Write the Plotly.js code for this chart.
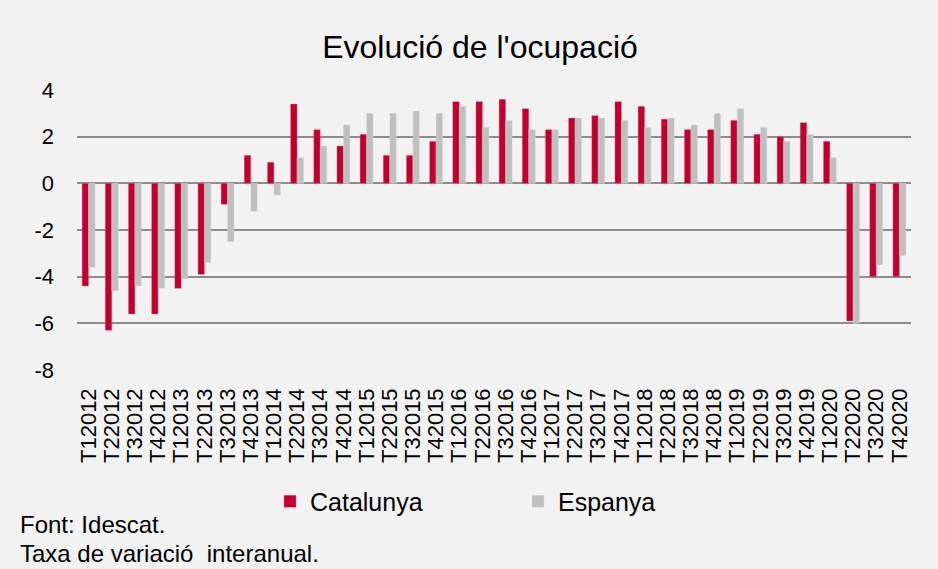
<!DOCTYPE html>
<html>
<head>
<meta charset="utf-8">
<script src="https://cdn.plot.ly/plotly-3.0.1.min.js"></script>
<style>html,body{margin:0;padding:0;background:#f2f2f2;}#chart{width:938px;height:569px;}</style>
</head>
<body>
<div id="chart"></div>
<script>
const categories = ["T12012","T22012","T32012","T42012","T12013","T22013","T32013","T42013","T12014","T22014","T32014","T42014","T12015","T22015","T32015","T42015","T12016","T22016","T32016","T42016","T12017","T22017","T32017","T42017","T12018","T22018","T32018","T42018","T12019","T22019","T32019","T42019","T12020","T22020","T32020","T42020"];
const catalunya = [-4.4,-6.3,-5.6,-5.6,-4.5,-3.9,-0.9,1.2,0.9,3.4,2.3,1.6,2.1,1.2,1.2,1.8,3.5,3.5,3.6,3.2,2.3,2.8,2.9,3.5,3.3,2.75,2.3,2.3,2.7,2.1,2.0,2.6,1.8,-5.9,-4.0,-4.0];
const espanya = [-3.6,-4.6,-4.4,-4.5,-4.1,-3.4,-2.5,-1.2,-0.5,1.1,1.6,2.5,3.0,3.0,3.1,3.0,3.3,2.4,2.7,2.3,2.3,2.8,2.8,2.7,2.4,2.8,2.5,3.0,3.2,2.4,1.8,2.1,1.1,-6.0,-3.5,-3.1];
const yTicks = [4,2,0,-2,-4,-6,-8];

const font = "Liberation Sans, Arial, sans-serif";
const traces = [
  {type:"bar", name:"Catalunya", x:categories, y:catalunya,
   marker:{color:"#c00030", line:{color:"rgba(230,120,150,0.6)", width:0.6}}},
  {type:"bar", name:"Espanya", x:categories, y:espanya,
   marker:{color:"#bfbfbf", line:{color:"rgba(220,220,220,0.6)", width:0.6}}}
];
const layout = {
  width:938, height:569,
  paper_bgcolor:"#f2f2f2", plot_bgcolor:"#f2f2f2",
  margin:{l:77, r:27, t:90, b:199},
  font:{family:font, color:"#000"},
  title:{text:"Evolució de l'ocupació", font:{family:font, size:32, color:"#000"}, x:0.5117, xanchor:"center", y:0.918, yanchor:"middle"},
  barmode:"group", bargap:0.44, bargroupgap:0,
  xaxis:{type:"category", tickmode:"array", tickvals:categories, ticktext:categories, tickangle:-90, tickfont:{size:22, color:"#000"}, showgrid:false, showline:false, ticks:"", ticklen:0, zeroline:false, ticklabelstandoff:13},
  yaxis:{range:[-8,4], tickvals:yTicks, ticktext:yTicks.map(String), tickfont:{size:22, color:"#000"}, showgrid:true, gridcolor:"#8c8c8c", gridwidth:2, zeroline:true, zerolinecolor:"#8c8c8c", zerolinewidth:2, showline:false, ticks:"", ticklabelstandoff:22},
  legend:{orientation:"h", x:0.2314, xanchor:"left", y:-0.47, yanchor:"middle", font:{size:25, color:"#000"}, entrywidth:203, entrywidthmode:"pixels", bgcolor:"rgba(0,0,0,0)", traceorder:"normal"},
  showlegend:true,
  annotations:[
    {text:"Font: Idescat.", xref:"paper", yref:"paper", x:-0.0707, y:-0.552, xanchor:"left", yanchor:"middle", showarrow:false, font:{size:24, color:"#000"}},
    {text:"Taxa de variació\u00a0 interanual.", xref:"paper", yref:"paper", x:-0.0707, y:-0.657, xanchor:"left", yanchor:"middle", showarrow:false, font:{size:24, color:"#000"}}
  ]
};
Plotly.newPlot("chart", traces, layout, {displayModeBar:false, staticPlot:true});
</script>
</body>
</html>
